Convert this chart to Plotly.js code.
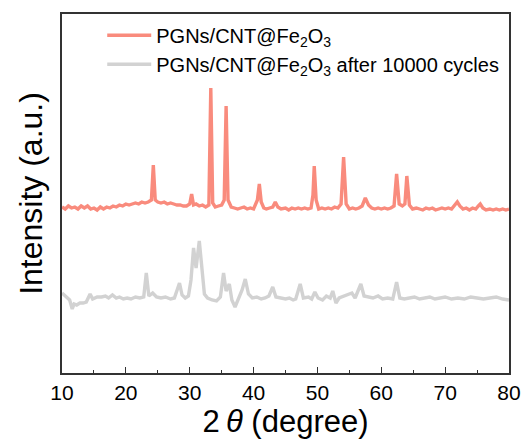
<!DOCTYPE html>
<html>
<head>
<meta charset="utf-8">
<script src="https://cdn.plot.ly/plotly-3.0.1.min.js"></script>
<style>html,body{margin:0;padding:0;background:#fff;}#chart{width:523px;height:440px;}</style>
</head>
<body>
<div id="chart"></div>
<script>
// Sample names
const seriesNames = ['PGNs/CNT@Fe<sub>2</sub>O<sub>3</sub>', 'PGNs/CNT@Fe<sub>2</sub>O<sub>3</sub> after 10000 cycles'];

// Fresh sample: 2θ (deg) and intensity (a.u., offset)
const freshTheta = [10.0,10.5,11,11.5,12,12.5,13,13.5,14,14.5,15,15.5,16,16.5,17,17.5,18,18.5,19,19.5,20,20.5,21,21.5,22,22.5,23,23.5,24.0,24.3,24.6,25,25.5,26,26.5,27,27.5,28,28.5,29,29.5,30.0,30.3,30.6,31,31.5,32,32.5,33.0,33.3,33.6,34,34.5,35.0,35.4,35.7,36.0,36.5,37,37.5,38,38.5,39,39.5,40.0,40.6,40.9,41.2,41.6,42,42.5,43.0,43.4,43.8,44.3,45,45.5,46,46.5,47,47.5,48,48.5,49.0,49.3,49.5,49.8,50.2,50.7,51.2,51.7,52.2,52.7,53.2,53.7,54.1,54.5,55,55.5,56,56.5,57.0,57.5,58,58.5,59,59.5,60,60.5,61,61.5,62.0,62.4,62.8,63.3,63.7,64.0,64.4,64.9,65.5,66,66.5,67,67.5,68,68.5,69,69.5,70,70.5,71,71.6,71.9,72.3,72.8,73.3,73.8,74.3,74.8,75.2,75.5,75.9,76.4,77,77.5,78,78.5,79,79.5,80];
const freshInt = [166,164,167,165,166,164,167,165,167,164,165,163,166,164,166,165,167,166,168,167,169,168,169,170,169,171,170,171,173,208,173,171,170,171,169,170,169,168,168,167,167,169,179,168,169,167,168,166,168,285,170,166,167,168,173,267,173,166,165,164,165,166,164,165,164,173,189,171,165,164,165,166,171,166,164,165,163,165,164,165,164,165,164,165,178,207,173,164,165,164,165,164,166,165,169,216,169,164,165,164,165,167,175,168,165,164,165,164,165,164,165,167,199,169,167,169,197,168,164,165,164,163,165,164,165,163,164,165,164,165,164,169,171,167,164,165,163,165,164,167,169,165,163,164,163,164,163,164,163,164];

// After 10000 cycles: 2θ (deg) and intensity (a.u., offset)
const cycledTheta = [10.0,10.4,10.8,11.2,11.6,11.9,12.3,12.8,13.3,13.8,14.4,14.8,15.5,16.2,16.8,17.3,17.9,18.5,19.0,19.6,20.2,20.8,21.5,22.2,22.8,23.2,23.6,24.2,24.8,25.5,26.2,27.0,27.6,28.0,28.4,28.8,29.3,29.8,30.2,30.6,31.0,31.5,31.9,32.3,32.8,33.5,34.2,34.8,35.3,35.7,36.2,36.6,37.1,37.6,38.2,38.7,39.2,39.8,40.5,41.2,41.8,42.4,43.0,43.5,44.2,45.0,45.6,46.2,46.6,47.3,47.8,48.6,49.1,49.6,50.1,50.8,51.4,52.0,52.4,52.9,53.4,54.2,55.0,55.4,55.9,56.8,57.3,58.0,58.7,59.5,60.2,61.0,61.8,62.4,62.9,63.6,64.3,65.2,66.0,66.8,67.6,68.4,69.2,70.0,71.0,72.0,73.0,74.0,75.0,76.0,77.0,78.0,79.0,80.0];
const cycledInt = [80,78,76,73,64,69,68,70,70,71,79,74,76,76,77,75,78,75,76,74,75,74,76,75,76,100,77,80,76,75,76,74,75,82,90,78,75,77,93,125,105,132,103,79,75,73,72,76,100,82,89,73,66,73,83,94,79,75,76,74,75,77,86,76,75,74,75,73,74,89,75,76,74,81,75,73,77,75,82,70,75,77,79,80,75,89,77,76,75,77,74,75,74,91,75,74,75,76,74,75,76,74,75,76,74,75,74,76,75,74,75,76,74,73];

const xTicks = [10,20,30,40,50,60,70,80];

const fontFam = '"Liberation Sans", Arial, sans-serif';

const traces = [
  {x: freshTheta, y: freshInt, name: seriesNames[0], mode: 'lines',
   line: {color: '#F98B7D', width: 3.4}},
  {x: cycledTheta, y: cycledInt, name: seriesNames[1], mode: 'lines',
   line: {color: '#D2D2D2', width: 3.4}}
];

const layout = {
  width: 523, height: 440,
  margin: {l: 62, r: 14, t: 14, b: 67, autoexpand: false},
  paper_bgcolor: '#fff', plot_bgcolor: '#fff',
  font: {family: fontFam, color: '#000'},
  showlegend: true,
  legend: {x: 0.09, y: 0.995, xanchor: 'left', yanchor: 'top', bgcolor: 'rgba(0,0,0,0)',
           itemwidth: 44,
           font: {size: 20, family: fontFam, color: '#000'}},
  xaxis: {
    range: [10, 80], tickvals: xTicks, ticktext: xTicks.map(String),
    ticks: 'inside', ticklen: 6, tickwidth: 1.2, tickcolor: '#333',
    minor: {dtick: 5, ticks: 'inside', ticklen: 3, tickwidth: 1, tickcolor: '#333'},
    showgrid: false, zeroline: false, automargin: false,
    showline: true, mirror: true, linecolor: '#333', linewidth: 1.8,
    tickfont: {size: 21, family: fontFam, color: '#000'},
    title: {text: '2\u2009<i>θ</i> (degree)', font: {size: 31, family: fontFam, color: '#000'}, standoff: 3}
  },
  yaxis: {
    range: [0, 359], showticklabels: false, ticks: '',
    showgrid: false, zeroline: false, automargin: false,
    showline: true, mirror: true, linecolor: '#333', linewidth: 1.8,
    title: {text: 'Intensity (a.u.)', font: {size: 32, family: fontFam, color: '#000'}, standoff: 8}
  }
};

Plotly.newPlot('chart', traces, layout, {displayModeBar: false, staticPlot: true});
</script>
</body>
</html>
